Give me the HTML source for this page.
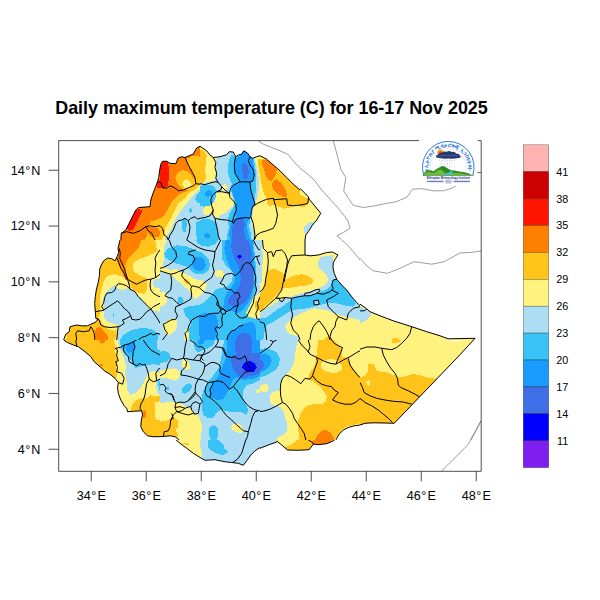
<!DOCTYPE html>
<html lang="en"><head><meta charset="utf-8"><title>Daily maximum temperature</title>
<style>html,body{margin:0;padding:0;background:#fff}body{width:600px;height:600px;overflow:hidden}svg{display:block}text{font-family:"Liberation Sans",Arial,Helvetica,sans-serif;fill:#000}.t{font-size:12.6px}.c{font-size:10.8px}.ttl{font-size:17.9px;font-weight:bold}</style></head><body>
<svg width="600" height="600" viewBox="0 0 600 600">
<rect width="600" height="600" fill="#fff"/>
<defs><clipPath id="c0"><rect x="100" y="140" width="100" height="100"/></clipPath><clipPath id="c1"><rect x="200" y="140" width="100" height="100"/></clipPath><clipPath id="c2"><rect x="300" y="140" width="100" height="100"/></clipPath><clipPath id="c3"><rect x="400" y="141" width="81" height="94"/></clipPath><clipPath id="c4"><rect x="60" y="240" width="100" height="100"/></clipPath><clipPath id="c5"><rect x="160" y="240" width="100" height="100"/></clipPath><clipPath id="c6"><rect x="260" y="240" width="100" height="100"/></clipPath><clipPath id="c7"><rect x="360" y="240" width="121" height="100"/></clipPath><clipPath id="c8"><rect x="60" y="340" width="100" height="100"/></clipPath><clipPath id="c9"><rect x="160" y="340" width="100" height="100"/></clipPath><clipPath id="c10"><rect x="260" y="340" width="100" height="100"/></clipPath><clipPath id="c11"><rect x="360" y="340" width="121" height="100"/></clipPath><clipPath id="c12"><rect x="160" y="440" width="100" height="31"/></clipPath><clipPath id="c13"><rect x="260" y="440" width="100" height="31"/></clipPath><clipPath id="c14"><rect x="420" y="400" width="61.3" height="71.3"/></clipPath></defs>
<g clip-path="url(#c0)">
<rect x="100" y="140" width="100" height="100" fill="#FF8000"/>
<polygon fill="#FFC31A" shape-rendering="crispEdges" points="200.0,180.0 200.0,240.0 144.2,240.0 146.7,236.7 148.3,228.3 150.0,221.7 156.7,219.7 163.3,216.7 168.3,208.3 171.7,201.7 178.3,195.0 185.0,191.7 190.8,190.0 186.7,190.0 181.7,188.3 177.5,184.2 175.3,177.5 177.5,172.5 182.5,170.0 188.3,171.7 193.3,177.5 196.7,182.5"/>
<polygon fill="#FFC31A" shape-rendering="crispEdges" points="191.7,155.8 195.8,155.8 200.0,156.7 200.0,184.2 196.0,183.7 195.0,177.5 192.5,172.5 188.3,165.0 186.7,160.0"/>
<polygon fill="#FFF27F" shape-rendering="crispEdges" points="183.3,180.8 186.7,179.2 190.8,181.7 191.7,185.8 189.2,188.7 184.2,187.5 182.0,184.2"/>
<polygon fill="#FF8000" shape-rendering="crispEdges" points="147.5,227.5 153.3,226.7 158.3,228.3 160.3,233.3 158.3,237.0 151.7,236.7 147.5,233.3"/>
<polygon fill="#FFF27F" shape-rendering="crispEdges" points="200.0,185.0 196.7,188.3 188.3,193.3 185.0,198.3 178.3,203.3 174.2,211.7 170.0,220.0 165.8,226.7 163.3,236.7 161.7,240.0 200.0,240.0"/>
<polygon fill="#ADDDF2" shape-rendering="crispEdges" points="200.0,189.2 196.7,191.7 191.7,196.7 186.7,203.3 180.0,211.7 175.0,220.0 171.7,228.3 166.7,235.8 164.7,240.0 200.0,240.0"/>
<polygon fill="#38C3F7" shape-rendering="crispEdges" points="200.0,191.7 196.7,194.2 195.3,199.2 197.5,203.3 200.0,203.0"/>
<polygon fill="#38C3F7" shape-rendering="crispEdges" points="188.7,208.7 191.3,208.3 192.0,212.0 189.7,212.8"/>
<polygon fill="#38C3F7" shape-rendering="crispEdges" points="182.0,219.2 185.8,218.0 187.0,223.3 185.8,231.7 183.3,232.5 181.7,226.7"/>
<polygon fill="#38C3F7" shape-rendering="crispEdges" points="195.8,222.5 200.0,220.8 200.0,240.0 197.5,240.0 195.8,233.3"/>
<polygon fill="#FF8000" shape-rendering="crispEdges" points="120.8,233.3 141.7,232.5 145.3,230.0 146.7,235.0 144.2,240.0 120.8,240.0"/>
<polygon fill="#FF1400" shape-rendering="crispEdges" points="162.0,161.7 167.5,162.0 168.8,167.5 168.8,179.2 167.5,186.3 164.2,188.7 157.5,187.8 157.2,182.0 160.0,180.0 160.3,168.3"/>
<polygon fill="#FF1400" shape-rendering="crispEdges" points="126.7,228.3 129.2,231.3 133.7,229.2 138.7,218.3 142.8,210.8 139.3,209.0 135.8,210.0 130.8,220.0"/>
<polygon fill="#fff" shape-rendering="crispEdges" points="100.0,140.0 200.0,140.0 200.0,146.3 196.7,148.0 195.0,150.8 193.3,154.2 190.8,155.0 185.0,157.5 181.7,156.7 178.3,158.0 177.0,160.8 175.8,163.7 170.0,163.3 166.7,161.2 162.5,161.3 160.8,164.2 159.7,170.0 158.7,177.5 157.5,181.7 155.0,188.3 153.0,193.3 150.8,200.0 150.0,206.7 138.7,207.5 135.8,210.0 130.8,220.0 125.8,230.0 121.3,233.3 120.8,240.0 100.0,240.0"/>
<polyline fill="none" stroke="#000" stroke-width="1" stroke-linejoin="round" points="120.8,240.0 121.3,233.3 125.8,230.0 130.8,220.0 135.8,210.0 138.7,207.5 150.0,206.7 150.8,200.0 153.0,193.3 155.0,188.3 157.5,181.7 158.7,177.5 159.7,170.0 160.8,164.2 162.5,161.3 166.7,161.2 170.0,163.3 175.8,163.7 177.0,160.8 178.3,158.0 181.7,156.7 185.0,157.5 190.8,155.0 193.3,154.2 195.0,150.8 196.7,148.0 200.0,146.3"/>
<polyline fill="none" stroke="#000" stroke-width="1" stroke-linejoin="round" points="185.0,157.5 188.3,165.0 192.5,172.5 195.0,177.5 195.8,183.7 200.0,184.2"/>
<polyline fill="none" stroke="#000" stroke-width="1" stroke-linejoin="round" points="157.5,181.7 160.8,182.5 162.5,187.5 166.7,188.3 170.0,185.8 174.2,187.5 178.3,190.8 183.3,190.0 189.2,187.5 193.3,185.8 195.8,183.7"/>
<polyline fill="none" stroke="#000" stroke-width="1" stroke-linejoin="round" points="121.3,233.3 126.7,231.7 133.3,233.3 140.0,230.8 145.8,226.7 150.0,225.8 155.0,226.7 160.0,225.8 162.5,228.3 164.2,235.0 166.7,236.7 168.3,240.0"/>
<polyline fill="none" stroke="#000" stroke-width="1" stroke-linejoin="round" points="145.8,226.7 148.3,230.8 151.7,233.3 153.3,236.7 155.0,240.0"/>
<polyline fill="none" stroke="#000" stroke-width="1" stroke-linejoin="round" points="168.3,240.0 170.0,235.0 173.3,230.0 175.8,223.3 178.3,220.8 181.7,220.0 185.0,218.3 188.3,220.8 190.8,218.3 195.0,216.7 197.5,219.2 200.0,218.3"/>
<polyline fill="none" stroke="#000" stroke-width="1" stroke-linejoin="round" points="188.3,220.8 190.0,226.7 189.2,233.3 186.7,240.0"/>
</g>
<g clip-path="url(#c1)">
<rect x="200" y="140" width="100" height="100" fill="#FFF27F"/>
<polygon fill="#FFC31A" shape-rendering="crispEdges" points="200.0,150.0 204.2,150.8 206.7,155.8 205.8,163.3 205.0,171.7 206.3,178.3 203.3,182.5 200.0,183.7"/>
<polygon fill="#FFC31A" shape-rendering="crispEdges" points="257.5,158.7 266.7,159.2 273.3,165.0 280.0,170.8 286.7,177.5 293.3,184.2 300.0,190.0 300.0,205.8 293.3,206.3 288.3,208.0 283.3,208.7 276.7,205.8 273.3,205.0 270.0,206.2 267.2,204.2 266.7,198.3 264.2,194.2 262.0,186.7 260.3,178.3 258.7,168.3"/>
<polygon fill="#FF8000" shape-rendering="crispEdges" points="262.0,159.7 266.7,159.7 273.3,165.0 277.0,169.2 275.3,175.8 271.7,180.8 268.3,180.0 265.8,175.8 264.2,170.0 262.5,165.0"/>
<polygon fill="#FF8000" shape-rendering="crispEdges" points="273.3,180.8 276.7,179.2 281.7,183.3 285.0,188.3 287.0,194.2 285.8,197.5 281.7,195.8 276.7,193.3 273.3,190.0 272.0,185.0"/>
<polygon fill="#ADDDF2" shape-rendering="crispEdges" points="216.7,157.5 226.7,155.0 229.2,152.0 233.3,152.0 235.8,156.7 241.7,154.2 243.7,150.8 247.5,153.0 250.0,156.7 255.0,158.0 256.3,165.0 258.3,173.3 259.2,183.3 258.3,193.3 256.7,200.0 253.7,206.7 252.5,215.0 251.7,223.3 253.7,230.0 255.0,240.0 200.0,240.0 200.0,184.2 205.0,182.5 210.0,181.7 215.0,180.0 216.7,173.3 215.8,165.0"/>
<polygon fill="#FFF27F" shape-rendering="crispEdges" points="221.7,185.0 225.8,184.2 227.5,188.3 226.7,191.7 222.5,190.8"/>
<polygon fill="#FFF27F" shape-rendering="crispEdges" points="216.7,193.3 221.7,191.7 228.3,192.5 232.5,196.7 234.2,201.7 232.5,206.7 228.3,210.0 225.0,213.3 220.0,215.0 217.5,220.0 214.7,218.3 214.2,213.3 210.0,214.2 205.0,215.3 202.5,211.7 204.2,206.7 210.0,205.8 213.3,203.3 215.8,198.3"/>
<polygon fill="#38C3F7" shape-rendering="crispEdges" points="231.7,154.2 235.8,156.7 241.7,154.2 243.7,150.8 247.5,153.0 250.0,156.7 253.7,158.3 255.3,166.7 256.2,176.7 256.2,186.7 255.3,195.0 254.2,201.7 251.7,210.0 250.0,218.3 249.3,226.7 250.8,233.3 251.7,240.0 226.7,240.0 227.5,233.3 229.2,226.7 227.5,221.7 229.2,213.3 233.3,208.3 234.5,203.3 233.3,196.7 230.8,190.0 231.7,183.3 228.7,176.7 227.5,166.7 229.2,160.0"/>
<polygon fill="#38C3F7" shape-rendering="crispEdges" points="200.0,185.8 206.7,184.7 213.3,185.8 216.7,190.0 215.8,196.7 213.3,202.5 210.0,205.8 204.2,206.7 200.0,205.8"/>
<polygon fill="#199BFF" shape-rendering="crispEdges" points="205.0,192.5 208.3,190.0 212.0,191.3 211.7,195.0 208.3,197.0 205.3,195.8"/>
<polygon fill="#38C3F7" shape-rendering="crispEdges" points="200.0,220.0 206.7,218.3 213.3,220.8 216.7,223.3 217.5,233.3 219.2,240.0 200.0,240.0"/>
<polygon fill="#199BFF" shape-rendering="crispEdges" points="204.2,234.2 207.5,233.0 210.3,235.0 209.7,237.7 205.0,238.0"/>
<polygon fill="#199BFF" shape-rendering="crispEdges" points="237.0,157.5 241.7,154.2 243.7,150.8 247.5,153.0 250.0,156.7 253.0,158.7 253.7,166.7 254.2,173.3 253.0,181.7 250.0,182.0 250.8,190.0 253.3,198.3 255.0,204.2 252.5,206.7 250.8,211.7 250.0,217.5 247.5,221.7 246.7,226.7 248.3,233.3 250.0,240.0 230.0,240.0 229.2,233.3 230.0,226.7 231.7,220.0 235.8,218.3 235.0,213.3 236.7,206.7 235.8,201.7 233.3,196.7 231.7,190.0 233.3,185.0 240.0,181.7 235.0,173.3 234.2,165.0 235.5,157.5"/>
<polygon fill="#3F6FE6" shape-rendering="crispEdges" points="242.5,163.3 245.8,162.5 248.3,166.7 248.7,173.3 247.5,178.3 245.0,180.0 243.0,176.7 242.0,170.0"/>
<polygon fill="#3F6FE6" shape-rendering="crispEdges" points="234.2,220.0 240.0,218.3 244.2,220.0 245.0,225.0 243.7,230.0 245.0,235.0 245.8,240.0 232.5,240.0 232.0,233.3 232.5,226.7"/>
<polygon fill="#fff" shape-rendering="crispEdges" points="200.0,140.0 300.0,140.0 300.0,190.0 293.3,184.2 286.7,177.5 280.0,170.8 273.3,165.0 266.7,159.2 260.0,155.8 256.7,156.7 252.5,158.3 250.0,156.7 247.5,153.0 243.7,150.8 241.7,154.2 238.3,155.0 235.8,156.7 233.3,152.0 229.2,151.7 226.7,154.7 220.0,156.7 213.3,157.5 210.0,155.0 206.7,150.8 200.0,146.3"/>
<polyline fill="none" stroke="#7d7d7d" stroke-width="0.75" points="258.3,140.8 263.3,144.2 271.7,147.5 280.0,150.8 288.3,154.7 292.5,160.0 296.7,165.0 300.0,167.5"/>
<polyline fill="none" stroke="#000" stroke-width="1" stroke-linejoin="round" points="200.0,146.3 206.7,150.8 210.0,155.0 213.3,157.5 220.0,156.7 226.7,154.7 229.2,151.7 233.3,152.0 235.8,156.7 238.3,155.0 241.7,154.2 243.7,150.8 247.5,153.0 250.0,156.7 252.5,158.3 256.7,156.7 260.0,155.8 266.7,159.2 273.3,165.0 280.0,170.8 286.7,177.5 293.3,184.2 300.0,190.0"/>
<polyline fill="none" stroke="#000" stroke-width="1" stroke-linejoin="round" points="213.3,157.5 215.8,162.5 215.0,167.5 216.7,173.3 215.8,178.3 218.3,182.5 221.7,186.7 220.8,190.0 216.7,191.7 212.5,195.0 210.8,200.0 211.7,205.8 213.3,210.0 212.5,214.2 215.0,218.3 215.8,223.3 217.5,230.0 218.3,235.8 220.0,240.0"/>
<polyline fill="none" stroke="#000" stroke-width="1" stroke-linejoin="round" points="200.0,183.7 205.0,184.7 210.0,183.0 215.8,181.7 218.3,182.5"/>
<polyline fill="none" stroke="#000" stroke-width="1" stroke-linejoin="round" points="235.5,156.7 234.2,165.0 235.0,173.3 240.0,181.7 233.3,185.3 230.8,188.3 229.2,193.3 230.0,197.5 233.3,200.8 235.8,204.2 236.3,210.0 234.2,215.0 232.5,221.7 233.3,223.3"/>
<polyline fill="none" stroke="#000" stroke-width="1" stroke-linejoin="round" points="221.7,186.7 225.0,190.0 229.2,193.3 221.7,191.7 216.7,191.7"/>
<polyline fill="none" stroke="#000" stroke-width="1" stroke-linejoin="round" points="250.0,156.7 248.3,160.8 250.0,165.0 253.0,169.2 254.2,175.0 253.0,180.8 250.0,182.0 240.0,181.7"/>
<polyline fill="none" stroke="#000" stroke-width="1" stroke-linejoin="round" points="250.0,182.0 250.8,190.0 253.0,197.5 255.0,204.2 252.5,206.7 251.3,211.7 250.8,216.7 250.0,218.3 245.8,217.5 240.0,218.3 235.8,219.2 233.3,223.3"/>
<polyline fill="none" stroke="#000" stroke-width="1" stroke-linejoin="round" points="252.5,206.7 257.5,203.3 266.7,199.2 273.3,198.3 274.2,199.7 286.7,198.7 287.5,205.0 293.3,205.8 300.0,205.0"/>
<polyline fill="none" stroke="#000" stroke-width="1" stroke-linejoin="round" points="273.3,198.3 275.8,206.7 277.5,215.0 275.8,223.3 273.3,228.3 266.7,230.8 260.8,232.5 256.7,235.0 254.2,240.0"/>
<polyline fill="none" stroke="#000" stroke-width="1" stroke-linejoin="round" points="250.8,216.7 253.3,223.3 254.2,230.0 255.0,235.0 254.2,240.0"/>
<polyline fill="none" stroke="#000" stroke-width="1" stroke-linejoin="round" points="200.0,218.3 205.0,217.5 210.0,215.8 213.3,210.0"/>
<polyline fill="none" stroke="#000" stroke-width="1" stroke-linejoin="round" points="215.0,218.3 221.7,219.7 226.7,220.0 232.5,221.7"/>
</g>
<g clip-path="url(#c2)">
<rect x="300" y="140" width="100" height="100" fill="#FFF27F"/>
<polygon fill="#FFC31A" shape-rendering="crispEdges" points="300.0,195.0 303.3,195.8 307.5,199.2 308.0,204.2 305.0,206.7 300.0,207.5"/>
<polygon fill="#ADDDF2" shape-rendering="crispEdges" points="304.2,226.7 308.3,223.3 313.7,221.3 312.5,225.0 308.3,230.8 305.8,233.7 303.7,232.5"/>
<polygon fill="#fff" shape-rendering="crispEdges" points="300.0,140.0 400.0,140.0 400.0,240.0 305.0,240.0 305.8,235.0 308.3,231.7 312.5,225.0 316.7,220.0 320.8,213.3 309.2,199.2 308.3,196.7 300.0,188.3"/>
<polyline fill="none" stroke="#7d7d7d" stroke-width="0.75" points="300.0,168.3 306.7,173.3 315.0,180.8 321.7,190.0 330.0,199.2 338.3,208.3 345.0,216.7 348.3,221.7 350.0,228.3 343.3,232.5 337.0,235.8 341.7,240.0"/>
<polyline fill="none" stroke="#7d7d7d" stroke-width="0.75" points="333.3,140.8 336.7,153.3 340.8,169.2 345.8,177.5 343.7,190.8 348.3,198.3 353.3,205.3 363.3,207.5 375.0,205.8 386.7,203.3 395.0,202.0 400.0,200.3"/>
<polyline fill="none" stroke="#000" stroke-width="1" stroke-linejoin="round" points="300.0,188.3 308.3,196.7 309.2,199.2 320.8,213.3 316.7,220.0 312.5,225.0 308.3,231.7 305.8,235.0 305.0,240.0"/>
<polyline fill="none" stroke="#000" stroke-width="1" stroke-linejoin="round" points="300.0,205.0 305.0,204.2 308.0,203.0 308.3,197.5"/>
</g>
<g clip-path="url(#c3)">
<polyline fill="none" stroke="#7d7d7d" stroke-width="0.75" points="400.0,200.0 406.7,197.5 412.5,189.2 421.7,188.7 433.3,190.8 443.3,190.8 451.7,188.3 455.8,185.8 470.0,176.8 478.3,172.7 481.7,172.3"/>
</g>
<g clip-path="url(#c4)">
<rect x="60" y="240" width="100" height="100" fill="#FFF27F"/>
<polygon fill="#FFC31A" shape-rendering="crispEdges" points="120.0,240.0 160.0,240.0 160.0,249.2 153.3,253.3 146.7,256.7 138.3,259.2 133.3,263.3 132.5,268.3 135.0,272.5 140.0,275.8 146.7,278.0 147.5,283.3 146.7,290.0 144.2,293.7 138.3,292.5 133.3,290.0 130.0,285.8 127.5,280.0 124.2,277.5 120.0,275.8 115.0,274.2 110.0,275.0 105.8,277.5 103.7,281.7 101.7,288.3 100.3,295.0 99.7,303.3 100.0,311.7 99.2,318.3 95.8,318.3 94.7,303.3 96.3,290.0 99.3,276.7 99.7,269.2 101.3,265.0 103.7,260.8 107.5,258.0 111.7,258.7 115.0,260.8 116.7,257.5 118.7,252.5 118.0,248.3"/>
<polygon fill="#FF8000" shape-rendering="crispEdges" points="120.0,240.0 141.7,240.0 138.3,248.3 133.3,253.3 128.3,258.3 125.3,265.0 126.0,271.7 128.0,279.2 125.3,280.0 122.5,273.3 119.7,266.7 117.0,260.8 118.3,251.7"/>
<polygon fill="#FFF27F" shape-rendering="crispEdges" points="155.3,240.0 160.0,240.0 160.0,250.0 157.5,250.3 155.8,245.8"/>
<polygon fill="#ADDDF2" shape-rendering="crispEdges" points="110.0,288.3 114.2,285.0 117.5,288.3 122.5,290.0 126.7,288.3 131.7,290.0 136.7,294.2 141.7,298.3 145.0,303.3 148.3,308.3 153.3,310.0 160.0,311.7 160.0,340.0 116.7,340.0 117.5,333.3 119.2,328.3 116.7,324.2 111.7,323.3 107.5,321.7 104.2,317.5 103.7,311.7 104.2,305.8 102.5,300.0 105.0,294.2"/>
<polygon fill="#ADDDF2" shape-rendering="crispEdges" points="153.3,280.0 160.0,278.3 160.0,288.3 155.8,288.3 153.3,285.0"/>
<polygon fill="#38C3F7" shape-rendering="crispEdges" points="120.0,340.0 123.3,335.0 131.7,330.0 143.3,327.5 151.7,329.2 158.3,333.3 157.5,340.0"/>
<polygon fill="#38C3F7" shape-rendering="crispEdges" points="112.5,313.3 114.2,312.8 114.3,317.0 112.7,317.5"/>
<polygon fill="#FFC31A" shape-rendering="crispEdges" points="63.3,340.0 64.2,337.5 68.3,330.8 70.0,325.8 75.8,324.2 81.7,325.0 87.5,325.0 91.7,323.3 95.8,318.3 100.0,318.3 101.7,323.3 106.7,328.3 113.3,330.8 116.7,330.0 115.8,335.0 115.0,340.0 65.8,340.0 67.5,335.0"/>
<polygon fill="#FF8000" shape-rendering="crispEdges" points="95.8,328.3 100.0,326.7 103.7,330.8 107.5,335.8 108.3,340.0 95.8,340.0 95.0,333.3"/>
<polygon fill="#fff" shape-rendering="crispEdges" points="60.0,240.0 120.0,240.0 118.0,248.3 118.7,252.5 116.7,257.5 115.0,260.8 111.7,258.7 107.5,258.0 103.7,260.8 101.3,265.0 99.7,269.2 99.3,276.7 98.0,283.3 96.3,290.0 95.3,296.7 94.7,303.3 95.3,311.7 95.8,318.3 98.3,319.3 95.0,322.5 90.8,324.2 87.5,325.8 81.7,325.8 76.7,325.0 70.0,326.7 69.2,331.7 65.8,334.2 64.2,338.3 63.7,340.0 60.0,340.0"/>
<polyline fill="none" stroke="#000" stroke-width="1" stroke-linejoin="round" points="120.0,240.0 118.0,248.3 118.7,252.5 116.7,257.5 115.0,260.8 111.7,258.7 107.5,258.0 103.7,260.8 101.3,265.0 99.7,269.2 99.3,276.7 98.0,283.3 96.3,290.0 95.3,296.7 94.7,303.3 95.3,311.7 95.8,318.3 98.3,319.3 95.0,322.5 90.8,324.2 87.5,325.8 81.7,325.8 76.7,325.0 70.0,326.7 69.2,331.7 65.8,334.2 64.2,338.3 63.7,340.0"/>
<polyline fill="none" stroke="#000" stroke-width="1" stroke-linejoin="round" points="119.2,248.3 120.3,253.3 119.7,258.3 122.0,263.3 124.2,268.3 125.8,273.3 127.5,279.2 131.7,281.7 136.7,284.2 141.7,281.7 145.8,280.0 150.8,279.2 155.8,277.5 160.0,274.2"/>
<polyline fill="none" stroke="#000" stroke-width="1" stroke-linejoin="round" points="116.7,257.5 118.7,262.5 120.8,268.3 124.2,273.3 126.7,279.2"/>
<polyline fill="none" stroke="#000" stroke-width="1" stroke-linejoin="round" points="127.5,279.2 129.2,285.0 130.0,289.2 135.0,291.7 138.3,296.7 143.3,301.7 148.3,306.7 150.8,309.2 153.3,306.7 160.0,303.3"/>
<polyline fill="none" stroke="#000" stroke-width="1" stroke-linejoin="round" points="130.0,289.2 126.7,285.8 122.5,284.2 118.3,283.7 115.8,286.7 115.0,290.0 111.7,292.5 106.7,293.3 104.7,297.5 103.7,302.5 101.7,306.7 103.7,310.0 110.0,305.8 115.0,302.5 117.5,300.8 120.8,304.2 124.2,308.3 128.3,311.7 130.8,315.8 131.7,319.2 135.8,320.0 140.0,319.2 143.3,315.8 146.7,311.7 150.8,309.2"/>
<polyline fill="none" stroke="#000" stroke-width="1" stroke-linejoin="round" points="103.7,310.3 95.3,311.7"/>
<polyline fill="none" stroke="#000" stroke-width="1" stroke-linejoin="round" points="130.8,315.8 126.7,318.3 122.5,320.0 124.2,323.3 120.8,325.8 118.3,326.7 117.5,331.7 116.7,340.0"/>
<polyline fill="none" stroke="#000" stroke-width="1" stroke-linejoin="round" points="95.8,318.3 99.2,320.0 100.8,325.0 104.2,326.7 110.0,327.5 118.3,326.7"/>
<polyline fill="none" stroke="#000" stroke-width="1" stroke-linejoin="round" points="76.7,340.0 75.8,333.3 77.5,330.8 83.3,331.7 89.2,330.8 90.8,326.7 92.5,329.2 94.2,333.3 95.0,340.0"/>
<polyline fill="none" stroke="#000" stroke-width="1" stroke-linejoin="round" points="150.8,279.2 150.0,285.0 150.8,290.0 153.3,293.3 157.5,295.8 160.0,296.7"/>
<polyline fill="none" stroke="#000" stroke-width="1" stroke-linejoin="round" points="155.8,277.5 155.0,270.0 155.8,263.3 155.0,258.3 157.5,253.3 160.0,250.0"/>
<polyline fill="none" stroke="#000" stroke-width="1" stroke-linejoin="round" points="150.8,309.2 155.0,315.0 158.3,320.0 160.0,323.3"/>
<polyline fill="none" stroke="#000" stroke-width="1" stroke-linejoin="round" points="138.3,340.0 141.7,337.5 146.7,335.8 150.8,333.3 153.3,335.0 156.7,333.3 160.0,334.2"/>
</g>
<g clip-path="url(#c5)">
<rect x="160" y="240" width="100" height="100" fill="#ADDDF2"/>
<polygon fill="#FFF27F" shape-rendering="crispEdges" points="160.0,240.0 167.5,240.0 165.0,244.2 163.7,250.0 164.2,258.3 162.5,265.0 160.0,266.7"/>
<polygon fill="#FFF27F" shape-rendering="crispEdges" points="160.0,265.0 165.0,267.5 170.0,270.0 176.7,269.2 183.3,272.5 189.2,275.8 195.8,279.2 203.3,280.8 207.5,284.2 205.0,290.0 200.0,295.8 195.0,299.2 191.7,295.0 188.3,290.0 183.3,285.8 176.7,280.0 171.7,275.8 166.7,273.3 160.0,271.7"/>
<polygon fill="#FFC31A" shape-rendering="crispEdges" points="183.3,280.0 186.7,279.2 189.7,282.5 188.3,284.7 185.0,283.0"/>
<polygon fill="#FFF27F" shape-rendering="crispEdges" points="160.0,291.7 164.2,291.7 167.5,296.7 166.7,302.5 163.3,305.8 160.0,306.7"/>
<polygon fill="#FFF27F" shape-rendering="crispEdges" points="215.0,270.8 221.7,270.0 224.7,274.2 222.5,277.5 215.8,277.0"/>
<polygon fill="#FFF27F" shape-rendering="crispEdges" points="164.2,322.5 170.0,319.2 175.8,318.3 177.5,323.3 175.8,330.0 171.7,334.2 166.7,335.0 163.3,330.0"/>
<polygon fill="#FFF27F" shape-rendering="crispEdges" points="185.0,330.8 189.2,328.3 193.3,330.8 192.5,340.0 184.2,340.0"/>
<polygon fill="#38C3F7" shape-rendering="crispEdges" points="164.2,253.3 168.3,248.3 176.7,245.3 186.7,246.3 195.0,250.0 201.7,252.5 208.3,258.3 210.0,265.0 208.3,270.8 203.3,274.2 196.7,274.2 191.7,271.7 188.3,267.5 181.7,265.0 175.0,263.3 169.2,260.0 165.0,257.5"/>
<polygon fill="#199BFF" shape-rendering="crispEdges" points="192.5,260.0 195.8,256.7 200.8,256.7 205.0,260.8 205.8,265.8 203.3,270.0 198.3,271.3 194.2,269.2 192.0,265.0"/>
<polygon fill="#38C3F7" shape-rendering="crispEdges" points="195.8,240.0 218.3,240.0 215.0,244.2 208.3,246.7 201.7,245.8 197.5,243.3"/>
<polygon fill="#38C3F7" shape-rendering="crispEdges" points="221.7,240.0 222.5,250.0 221.7,258.3 226.7,266.7 233.3,273.3 231.7,281.7 226.7,286.7 220.0,288.3 215.0,290.0 211.7,295.0 206.7,300.0 201.7,304.2 193.3,305.8 186.7,306.7 183.3,309.2 185.0,315.0 189.2,320.0 190.8,325.0 188.3,330.0 189.2,340.0 260.0,340.0 260.0,320.0 253.3,318.3 248.3,316.7 245.8,313.3 249.2,306.7 251.7,301.7 253.3,296.7 255.8,290.0 256.7,281.7 256.3,273.3 255.8,265.0 255.0,256.7 254.2,248.3 253.3,240.0"/>
<polygon fill="#38C3F7" shape-rendering="crispEdges" points="177.5,297.5 181.7,296.7 183.7,300.8 181.7,304.2 178.3,302.5"/>
<polygon fill="#FFF27F" shape-rendering="crispEdges" points="253.3,296.7 260.0,293.3 260.0,318.3 253.3,318.3 248.3,316.7 245.8,313.3 249.2,306.7 251.7,301.7"/>
<polygon fill="#FFC31A" shape-rendering="crispEdges" points="255.3,301.7 260.0,299.2 260.0,310.8 256.7,310.0 254.7,305.8"/>
<polygon fill="#199BFF" shape-rendering="crispEdges" points="225.8,240.0 252.5,240.0 253.3,250.0 254.2,260.0 254.7,270.0 254.2,280.0 253.3,290.0 250.8,298.3 246.7,305.0 242.5,310.0 238.3,313.3 233.3,311.7 226.7,310.0 223.3,306.7 224.2,300.0 226.7,293.3 230.0,288.3 234.2,283.3 235.0,276.7 231.7,270.0 228.3,263.3 225.8,256.7 224.2,248.3"/>
<polygon fill="#199BFF" shape-rendering="crispEdges" points="226.7,340.0 230.0,333.3 236.7,328.3 245.0,323.3 251.7,321.7 255.3,324.2 256.3,340.0"/>
<polygon fill="#3F6FE6" shape-rendering="crispEdges" points="231.7,240.0 248.3,240.0 250.8,246.7 251.7,255.0 250.0,261.7 252.5,268.3 253.3,276.7 252.5,286.7 250.0,295.0 245.8,301.7 240.0,305.0 233.3,305.8 228.3,304.2 227.5,300.0 231.7,295.0 236.7,290.0 240.0,285.0 240.8,278.3 240.0,271.7 238.3,265.0 235.0,260.0 232.5,253.3 231.3,246.7"/>
<polygon fill="#199BFF" shape-rendering="crispEdges" points="198.7,318.3 203.3,313.3 210.0,312.5 215.8,315.0 218.3,321.7 217.5,330.0 215.8,335.8 215.0,340.0 200.0,340.0 198.7,330.0"/>
<polygon fill="#3F6FE6" shape-rendering="crispEdges" points="235.8,340.0 237.5,335.8 242.5,333.0 248.3,333.7 251.3,337.5 251.7,340.0"/>
<polygon fill="#0000FF" shape-rendering="crispEdges" points="237.0,256.7 239.2,254.2 241.7,256.7 239.5,259.3"/>
<polyline fill="none" stroke="#000" stroke-width="1" stroke-linejoin="round" points="169.2,240.0 171.7,246.7 175.8,251.7 176.7,256.7 173.3,261.7 168.3,265.0 163.3,267.5 160.0,268.3"/>
<polyline fill="none" stroke="#000" stroke-width="1" stroke-linejoin="round" points="186.7,240.0 191.7,243.3 198.3,247.5 205.0,250.0 210.0,250.8 215.0,251.7 218.3,245.0 220.8,240.0"/>
<polyline fill="none" stroke="#000" stroke-width="1" stroke-linejoin="round" points="215.0,251.7 214.2,258.3 212.5,265.0 214.2,271.7 211.7,277.5 206.7,280.8 202.5,284.2 199.2,287.5"/>
<polyline fill="none" stroke="#000" stroke-width="1" stroke-linejoin="round" points="195.8,250.0 189.2,251.7 188.3,254.2 193.3,255.8 195.0,260.0 192.5,263.3 188.3,267.5 183.3,270.0 178.3,271.7 175.0,273.3 170.8,274.2 165.0,272.5 160.0,270.8"/>
<polyline fill="none" stroke="#000" stroke-width="1" stroke-linejoin="round" points="170.8,274.2 171.7,281.7 170.8,290.0 166.7,293.3 165.0,295.8 168.3,297.5 172.5,298.3 176.7,302.5 180.0,305.0 175.8,306.7 175.0,310.8 177.5,315.8 175.8,319.2 170.8,320.0 166.7,322.5 163.3,324.2 165.0,330.0 167.5,333.3 165.0,336.7 162.5,340.0"/>
<polyline fill="none" stroke="#000" stroke-width="1" stroke-linejoin="round" points="180.0,305.0 185.0,302.5 190.8,299.2 191.7,295.0 190.8,288.3 192.5,285.8 199.2,287.5 201.7,290.0 205.0,292.5 210.0,293.3 215.0,295.8 217.5,300.0 216.7,305.0 219.2,306.7 220.8,310.0 218.3,313.3 213.3,313.3 208.3,314.2 204.2,316.7 200.0,315.8 195.8,317.5 191.7,320.0 189.2,325.0 187.5,330.8 185.0,333.3 186.7,340.0"/>
<polyline fill="none" stroke="#000" stroke-width="1" stroke-linejoin="round" points="183.3,270.0 181.7,275.8 185.0,280.0 189.2,283.3 191.7,286.7"/>
<polyline fill="none" stroke="#000" stroke-width="1" stroke-linejoin="round" points="217.5,300.0 219.2,306.7 222.5,308.3 225.8,311.7 230.0,310.0 234.2,306.7 238.3,305.0 237.5,300.0 240.0,296.7 238.3,292.5 235.0,293.3 231.7,290.0 226.7,289.2 224.2,285.0 220.0,283.3 222.5,280.0 224.2,275.8 226.7,274.2 231.7,273.3 235.0,275.8 238.3,273.3 241.7,269.2 243.3,265.0 246.7,262.5 250.0,263.3 252.5,260.0 255.0,256.7 260.0,255.8"/>
<polyline fill="none" stroke="#000" stroke-width="1" stroke-linejoin="round" points="250.0,263.3 253.3,268.3 255.8,276.7 255.0,283.3 256.7,290.0 254.2,296.7 253.3,303.3 250.8,308.3 248.3,313.3 246.7,316.7 241.7,318.3 238.3,316.7 235.8,313.3 236.7,308.3 238.3,305.0"/>
<polyline fill="none" stroke="#000" stroke-width="1" stroke-linejoin="round" points="260.0,296.7 257.5,303.3 258.3,308.3 255.8,313.3 256.7,318.3 260.0,320.0"/>
<polyline fill="none" stroke="#000" stroke-width="1" stroke-linejoin="round" points="220.8,310.0 223.3,308.7 225.8,310.8 225.3,313.7 222.5,314.2 220.8,312.5 220.8,310.0"/>
<polyline fill="none" stroke="#000" stroke-width="1" stroke-linejoin="round" points="222.5,314.2 221.7,320.0 222.5,325.0 220.0,328.3 216.7,326.7 215.0,329.2 217.5,333.3 216.7,337.5 218.3,340.0"/>
<polyline fill="none" stroke="#000" stroke-width="1" stroke-linejoin="round" points="226.7,340.0 228.3,335.0 231.7,330.8 235.0,330.0 238.3,326.7 243.3,325.0"/>
<polyline fill="none" stroke="#000" stroke-width="1" stroke-linejoin="round" points="253.3,240.0 255.8,245.0 258.3,249.2 260.0,250.0"/>
<polyline fill="none" stroke="#000" stroke-width="1" stroke-linejoin="round" points="256.7,256.7 258.3,261.7 260.0,265.0"/>
</g>
<g clip-path="url(#c6)">
<rect x="260" y="240" width="100" height="100" fill="#FFF27F"/>
<polygon fill="#ADDDF2" shape-rendering="crispEdges" points="260.0,240.0 262.3,240.0 262.7,260.0 261.7,281.7 260.0,283.3"/>
<polygon fill="#FFC31A" shape-rendering="crispEdges" points="268.3,270.0 275.0,269.2 283.3,273.3 285.0,280.0 283.3,287.5 278.3,293.3 273.3,298.3 268.3,303.3 263.3,308.3 260.0,310.8 260.0,293.3 263.3,290.0 265.8,281.7 266.7,275.0"/>
<polygon fill="#FFC31A" shape-rendering="crispEdges" points="285.0,280.0 293.3,275.8 301.7,274.2 308.3,275.8 313.3,280.0 311.7,284.2 305.0,285.8 296.7,286.7 288.3,288.3 283.3,287.5"/>
<polygon fill="#ADDDF2" shape-rendering="crispEdges" points="318.3,261.7 320.0,257.5 326.7,255.8 332.5,255.3 333.3,262.5 333.0,267.5 334.2,273.3 336.7,279.2 341.7,285.0 346.7,290.0 351.7,296.7 356.7,302.5 360.0,305.8 360.0,320.0 348.3,317.5 333.3,313.3 326.7,310.0 315.0,308.3 305.0,311.7 295.0,316.7 288.3,321.7 285.0,326.7 288.3,333.3 298.3,336.7 300.0,340.0 260.0,340.0 260.0,313.3 266.7,308.3 273.3,304.2 280.0,300.0 286.7,297.5 293.3,295.8 301.7,293.3 310.0,290.8 318.3,288.3 325.0,285.0 328.3,280.0 326.7,275.0 321.7,270.8 318.3,266.7"/>
<polygon fill="#38C3F7" shape-rendering="crispEdges" points="331.7,280.0 336.7,279.2 341.7,285.0 346.7,290.0 351.7,296.7 355.8,303.3 353.3,306.7 346.7,305.8 340.0,304.2 333.3,302.5 326.7,303.3 320.0,305.0 313.3,306.7 306.7,308.3 300.0,309.2 293.3,310.0 286.7,313.3 280.0,317.5 273.3,321.7 266.7,325.0 264.2,333.3 263.3,340.0 260.0,340.0 260.0,318.3 265.0,318.3 270.0,315.0 276.7,310.0 283.3,305.8 290.0,300.8 293.3,298.3 303.3,295.8 310.0,295.0 316.7,293.3 323.3,290.8 328.3,288.3 331.7,284.2"/>
<polygon fill="#ADDDF2" shape-rendering="crispEdges" points="313.7,300.8 318.3,300.0 319.2,304.2 314.2,305.0"/>
<polygon fill="#FFC31A" shape-rendering="crispEdges" points="323.3,340.0 325.8,337.5 330.0,336.7 331.7,340.0"/>
<polygon fill="#fff" shape-rendering="crispEdges" points="305.0,240.0 305.0,255.0 310.0,255.8 318.3,255.0 326.7,252.5 332.5,252.0 338.0,255.0 335.8,258.3 333.3,262.5 333.0,267.5 334.2,273.3 336.7,279.2 341.7,285.0 346.7,290.0 351.7,296.7 356.7,302.5 360.0,305.8 360.0,240.0"/>
<polyline fill="none" stroke="#7d7d7d" stroke-width="0.75" points="341.7,240.0 346.7,244.2 353.3,251.7 360.0,260.0"/>
<polyline fill="none" stroke="#000" stroke-width="1" stroke-linejoin="round" points="305.0,240.0 305.0,255.0 310.0,255.8 318.3,255.0 326.7,252.5 332.5,252.0 338.0,255.0 335.8,258.3 333.3,262.5 333.0,267.5 334.2,273.3 336.7,279.2 341.7,285.0 346.7,290.0 351.7,296.7 356.7,302.5 360.0,305.8"/>
<polyline fill="none" stroke="#000" stroke-width="1" stroke-linejoin="round" points="262.5,240.0 263.3,248.3 267.5,252.5 271.7,251.7 273.3,256.7 275.8,250.8 281.7,250.0 285.0,253.3 287.5,260.0 286.7,266.7 285.0,273.3 283.3,281.7 281.7,290.0 278.3,295.0 275.8,298.3"/>
<polyline fill="none" stroke="#000" stroke-width="1" stroke-linejoin="round" points="267.5,252.5 268.3,261.7 267.5,270.0 265.8,278.3 265.0,285.0 262.5,290.0 260.0,291.7"/>
<polyline fill="none" stroke="#000" stroke-width="1" stroke-linejoin="round" points="305.0,255.0 298.3,255.3 291.7,255.8 289.2,260.0 287.5,265.0 285.8,273.3 284.2,281.7"/>
<polyline fill="none" stroke="#000" stroke-width="1" stroke-linejoin="round" points="275.8,298.3 280.0,298.3 285.0,297.5 291.7,298.3 298.3,296.7 304.2,295.8 305.0,293.3 310.0,292.5 315.0,290.0 319.2,289.2 320.0,290.8 316.7,293.3 323.3,294.2 330.0,291.7 333.3,288.3 331.7,285.0 333.3,280.0 336.7,279.2"/>
<polyline fill="none" stroke="#000" stroke-width="1" stroke-linejoin="round" points="304.2,295.8 310.0,295.8 316.7,293.3"/>
<polyline fill="none" stroke="#000" stroke-width="1" stroke-linejoin="round" points="331.7,290.0 338.3,293.3 333.3,296.7 326.7,300.0 328.3,306.7 333.3,311.7 338.3,316.7 346.7,320.0 348.3,313.3 353.3,308.3 360.0,306.7"/>
<polyline fill="none" stroke="#000" stroke-width="1" stroke-linejoin="round" points="291.7,298.3 290.8,306.7 292.5,315.0 290.8,323.3 293.3,330.0 298.3,335.0 300.0,340.0"/>
<polyline fill="none" stroke="#000" stroke-width="1" stroke-linejoin="round" points="275.8,298.3 270.0,303.3 265.0,308.3 260.0,311.7"/>
<polyline fill="none" stroke="#000" stroke-width="1" stroke-linejoin="round" points="278.3,297.5 280.0,300.8 282.5,301.7 285.0,297.5"/>
<polyline fill="none" stroke="#000" stroke-width="1" stroke-linejoin="round" points="310.0,340.0 310.8,333.3 313.3,326.7 316.7,322.5 319.2,320.8 322.5,325.0 325.8,330.0 328.3,335.0 330.0,340.0"/>
<polyline fill="none" stroke="#000" stroke-width="1" stroke-linejoin="round" points="338.3,316.7 335.8,321.7 335.0,326.7 331.7,330.8 330.0,336.7 331.7,340.0"/>
<polyline fill="none" stroke="#000" stroke-width="1" stroke-linejoin="round" points="313.7,300.8 318.3,300.0 319.2,304.2 314.2,305.0 313.7,300.8"/>
<polyline fill="none" stroke="#000" stroke-width="1" stroke-linejoin="round" points="260.0,321.7 264.2,323.3 265.8,330.0 266.7,340.0"/>
</g>
<g clip-path="url(#c7)">
<rect x="360" y="240" width="121" height="100" fill="#FFF27F"/>
<polygon fill="#ADDDF2" shape-rendering="crispEdges" points="360.0,306.7 365.0,308.3 371.7,314.2 366.7,320.0 361.7,322.5 360.0,322.5"/>
<polygon fill="#FFC31A" shape-rendering="crispEdges" points="391.7,340.0 393.3,338.3 397.5,338.3 399.2,340.0"/>
<polygon fill="#fff" shape-rendering="crispEdges" points="360.0,240.0 481.0,240.0 481.0,340.0 473.5,340.0 475.0,338.3 448.3,338.8 440.0,335.8 426.7,331.7 411.7,326.7 393.3,320.8 380.0,315.8 370.0,311.7 365.0,307.5 360.0,304.2"/>
<polyline fill="none" stroke="#7d7d7d" stroke-width="0.75" points="360.0,258.3 366.7,265.8 373.3,270.8 387.5,273.3 400.0,268.3 414.2,261.7 431.7,264.2 444.2,261.7 453.3,256.7 460.0,253.0 472.0,252.3 481.0,251.0"/>
<polyline fill="none" stroke="#000" stroke-width="1" stroke-linejoin="round" points="360.0,304.2 365.0,307.5 370.0,311.7 380.0,315.8 393.3,320.8 411.7,326.7 426.7,331.7 440.0,335.8 448.3,338.8 475.0,338.3 473.5,340.0"/>
<polyline fill="none" stroke="#000" stroke-width="1" stroke-linejoin="round" points="360.0,310.8 364.2,310.8 366.7,309.2"/>
<polyline fill="none" stroke="#000" stroke-width="1" stroke-linejoin="round" points="411.7,326.7 410.0,333.3 406.7,338.3 405.0,340.0"/>
</g>
<g clip-path="url(#c8)">
<rect x="60" y="340" width="100" height="100" fill="#FFC31A"/>
<polygon fill="#FFF27F" shape-rendering="crispEdges" points="114.2,340.0 160.0,340.0 160.0,395.8 155.0,396.7 150.8,395.0 146.7,398.3 141.7,398.0 136.7,400.3 132.0,404.7 130.8,410.8 127.5,411.7 126.7,408.3 124.2,405.8 120.8,400.0 118.3,393.3 117.5,387.5 118.3,382.5 115.8,379.2 117.5,373.3 115.8,368.3 117.5,361.7 115.8,355.0 115.0,348.3"/>
<polygon fill="#ADDDF2" shape-rendering="crispEdges" points="117.5,340.0 160.0,340.0 160.0,373.3 153.3,370.8 148.3,373.3 145.8,378.3 143.3,383.3 140.0,388.3 135.0,393.3 130.0,395.3 127.5,390.0 126.7,381.7 125.3,373.3 125.8,365.0 123.3,356.7 120.3,350.0"/>
<polygon fill="#ADDDF2" shape-rendering="crispEdges" points="156.7,379.2 160.0,377.5 160.0,395.0 157.5,393.3 155.8,386.7"/>
<polygon fill="#38C3F7" shape-rendering="crispEdges" points="120.0,340.0 157.5,340.0 157.0,348.3 160.0,350.8 160.0,365.0 153.3,364.2 146.7,365.0 140.0,366.7 135.0,368.3 131.7,361.7 125.0,353.3 120.8,348.3"/>
<polygon fill="#38C3F7" shape-rendering="crispEdges" points="158.3,381.7 160.0,380.8 160.0,390.0 158.7,389.2"/>
<polygon fill="#199BFF" shape-rendering="crispEdges" points="126.7,343.3 131.7,342.5 135.0,345.8 133.3,350.8 129.2,353.3 125.8,350.0"/>
<polygon fill="#FF8000" shape-rendering="crispEdges" points="99.2,340.0 105.0,340.0 104.2,343.3 100.8,343.7"/>
<polygon fill="#FF8000" shape-rendering="crispEdges" points="143.3,410.8 145.3,410.0 146.3,414.2 145.0,418.3 143.3,417.5"/>
<polygon fill="#FF8000" shape-rendering="crispEdges" points="100.0,363.7 103.0,364.2 102.5,366.0 100.3,365.5"/>
<polygon fill="#FFF27F" shape-rendering="crispEdges" points="155.3,402.0 160.0,401.3 160.0,420.0 155.8,419.7 154.7,411.7"/>
<polygon fill="#fff" shape-rendering="crispEdges" points="60.0,340.0 63.7,340.0 67.5,342.5 73.3,345.0 78.3,346.7 85.0,351.7 90.8,356.7 94.2,361.7 100.0,366.7 105.0,371.3 110.0,374.2 115.0,378.3 118.3,382.5 117.5,387.5 118.3,393.3 120.8,400.0 124.2,405.8 126.7,408.3 127.5,411.7 133.3,411.3 141.7,410.8 142.5,415.0 141.3,420.0 140.8,426.7 143.3,431.7 147.5,435.8 153.3,436.7 160.0,436.7 160.0,440.0 60.0,440.0"/>
<polyline fill="none" stroke="#000" stroke-width="1" stroke-linejoin="round" points="63.7,340.0 67.5,342.5 73.3,345.0 78.3,346.7 85.0,351.7 90.8,356.7 94.2,361.7 100.0,366.7 105.0,371.3 110.0,374.2 115.0,378.3 118.3,382.5 117.5,387.5 118.3,393.3 120.8,400.0 124.2,405.8 126.7,408.3 127.5,411.7 133.3,411.3 141.7,410.8 142.5,415.0 141.3,420.0 140.8,426.7 143.3,431.7 147.5,435.8 153.3,436.7 160.0,436.7"/>
<polyline fill="none" stroke="#000" stroke-width="1" stroke-linejoin="round" points="75.8,340.0 76.7,346.7"/>
<polyline fill="none" stroke="#000" stroke-width="1" stroke-linejoin="round" points="115.0,348.3 117.5,350.0 116.7,355.8 118.3,360.8 115.8,361.7 117.5,367.5 116.7,371.7 121.7,373.3 124.2,378.3 122.5,384.2 118.3,382.5"/>
<polyline fill="none" stroke="#000" stroke-width="1" stroke-linejoin="round" points="115.0,348.3 120.0,347.5 124.2,345.0 128.3,344.2 133.3,341.7 136.7,340.0"/>
<polyline fill="none" stroke="#000" stroke-width="1" stroke-linejoin="round" points="124.2,345.0 123.3,350.0 125.8,354.2 128.3,356.7 129.2,361.7 133.3,364.2 137.5,365.8 139.2,363.3 142.5,365.0 145.0,364.2 146.7,368.3 148.3,373.3 149.2,379.2 146.7,383.3 145.8,388.3 145.0,395.0 143.3,400.0 140.8,404.2 140.0,408.3 141.7,410.8"/>
<polyline fill="none" stroke="#000" stroke-width="1" stroke-linejoin="round" points="133.3,341.7 135.0,346.7 133.3,351.7 132.5,358.3 133.3,364.2"/>
<polyline fill="none" stroke="#000" stroke-width="1" stroke-linejoin="round" points="143.3,340.0 146.7,345.0 150.8,350.0 156.7,353.3 160.0,355.0"/>
<polyline fill="none" stroke="#000" stroke-width="1" stroke-linejoin="round" points="149.2,379.2 153.3,381.7 156.7,380.8 160.0,379.2"/>
<polyline fill="none" stroke="#000" stroke-width="1" stroke-linejoin="round" points="156.7,380.8 155.8,373.3 158.3,369.2 160.0,368.3"/>
</g>
<g clip-path="url(#c9)">
<rect x="160" y="340" width="100" height="100" fill="#ADDDF2"/>
<polygon fill="#FFF27F" shape-rendering="crispEdges" points="160.0,370.8 166.7,369.2 175.0,368.3 180.0,371.7 179.2,378.3 175.0,380.8 170.0,379.2 165.0,377.5 160.0,378.3"/>
<polygon fill="#FFF27F" shape-rendering="crispEdges" points="181.7,360.0 185.8,359.2 189.2,363.3 190.0,368.3 186.7,370.0 182.5,366.7"/>
<polygon fill="#FFF27F" shape-rendering="crispEdges" points="160.0,403.3 168.3,402.0 176.7,402.5 185.0,405.8 193.3,410.8 199.2,416.7 201.7,425.0 201.3,440.0 160.0,440.0"/>
<polygon fill="#FFC31A" shape-rendering="crispEdges" points="160.0,421.7 166.7,420.8 172.5,417.5 177.5,420.0 178.0,426.7 175.8,430.8 178.3,435.0 176.7,440.0 160.0,440.0"/>
<polygon fill="#FFF27F" shape-rendering="crispEdges" points="230.8,426.7 235.0,423.3 240.0,424.2 243.3,428.3 242.5,432.5 238.3,432.5 233.3,430.8"/>
<polygon fill="#FFF27F" shape-rendering="crispEdges" points="255.8,390.0 260.0,389.2 260.0,393.3 256.7,393.3"/>
<polygon fill="#FFF27F" shape-rendering="crispEdges" points="202.2,370.8 203.3,370.8 203.7,374.2 202.3,374.2"/>
<polygon fill="#38C3F7" shape-rendering="crispEdges" points="160.0,351.7 165.0,350.8 170.0,354.2 170.8,358.3 166.7,361.7 160.0,363.3"/>
<polygon fill="#38C3F7" shape-rendering="crispEdges" points="192.5,340.0 215.0,340.0 213.3,345.0 208.3,348.3 203.3,350.0 198.3,352.5 195.0,350.0 194.2,345.0"/>
<polygon fill="#199BFF" shape-rendering="crispEdges" points="197.5,340.0 205.0,340.0 203.3,343.3 200.0,345.0 198.0,343.3"/>
<polygon fill="#38C3F7" shape-rendering="crispEdges" points="181.7,389.2 185.0,385.0 190.0,383.0 192.5,385.8 190.0,390.8 185.0,393.7 181.7,392.5"/>
<polygon fill="#38C3F7" shape-rendering="crispEdges" points="165.8,387.0 168.7,386.7 169.2,389.7 166.3,390.0"/>
<polygon fill="#38C3F7" shape-rendering="crispEdges" points="224.2,340.0 260.0,340.0 260.0,380.0 253.3,383.3 246.7,385.0 243.3,390.0 242.5,396.7 245.0,403.3 248.3,410.0 246.7,415.0 240.0,411.7 230.0,411.7 221.7,410.0 217.5,411.7 213.3,417.5 208.3,418.3 203.3,415.0 201.7,406.7 201.7,396.7 204.2,388.3 208.3,381.7 213.3,375.8 218.3,368.3 220.8,360.0 222.5,350.0"/>
<polygon fill="#38C3F7" shape-rendering="crispEdges" points="209.2,428.3 213.3,425.0 217.5,427.5 218.3,433.3 216.7,440.0 210.8,440.0 209.2,435.0"/>
<polygon fill="#199BFF" shape-rendering="crispEdges" points="226.7,340.0 260.0,340.0 260.0,375.8 255.0,378.3 250.0,379.2 243.3,380.0 238.3,377.5 233.3,379.2 230.8,385.0 228.3,390.0 225.8,395.0 223.3,399.2 216.7,400.0 211.7,397.5 209.2,391.7 211.7,385.0 215.8,380.0 218.3,375.0 220.8,370.8 223.3,365.0 225.8,358.3 226.7,350.0"/>
<polygon fill="#3F6FE6" shape-rendering="crispEdges" points="231.7,355.8 236.7,354.2 241.7,356.7 245.0,354.2 250.0,352.5 256.7,352.5 260.0,353.3 260.0,373.3 255.0,375.0 250.0,375.8 243.3,378.3 238.3,375.8 235.0,371.7 232.5,366.7 230.8,360.8"/>
<polygon fill="#3F6FE6" shape-rendering="crispEdges" points="235.0,340.0 251.7,340.0 252.0,350.0 248.3,356.7 243.3,358.3 238.3,356.7 235.0,350.0"/>
<polygon fill="#0000FF" shape-rendering="crispEdges" points="241.7,366.7 245.0,362.5 250.0,360.8 255.0,363.3 256.7,367.5 254.2,371.7 250.0,372.5 245.0,370.8"/>
<polygon fill="#fff" shape-rendering="crispEdges" points="160.0,436.7 165.0,436.3 170.0,435.8 175.0,436.7 179.2,440.0 160.0,440.0"/>
<polyline fill="none" stroke="#000" stroke-width="1" stroke-linejoin="round" points="160.0,436.7 165.0,436.3 170.0,435.8 175.0,436.7 179.2,440.0"/>
<polyline fill="none" stroke="#000" stroke-width="1" stroke-linejoin="round" points="186.7,340.0 185.0,346.7 184.2,355.0 183.3,358.3 176.7,360.0 171.7,358.3 168.3,363.3 166.7,369.2 165.0,373.3 160.0,375.8"/>
<polyline fill="none" stroke="#000" stroke-width="1" stroke-linejoin="round" points="183.3,358.3 186.7,361.7 185.8,366.7 181.7,370.8 180.8,375.0 186.7,375.8 193.3,377.5 198.3,379.2 195.8,384.2 195.0,390.0 195.8,393.3 192.5,397.5 188.3,400.8 184.2,402.5 180.0,402.0 175.8,403.3 175.0,407.5 176.7,411.7 173.3,415.0 170.8,420.0 170.0,426.7 168.3,430.8 164.2,431.7 163.3,436.7"/>
<polyline fill="none" stroke="#000" stroke-width="1" stroke-linejoin="round" points="160.0,385.0 163.3,384.2 165.8,387.5 165.0,390.8 167.5,393.3 171.7,394.2 173.3,398.3 175.8,403.3"/>
<polyline fill="none" stroke="#000" stroke-width="1" stroke-linejoin="round" points="184.2,358.3 193.3,360.0 200.0,360.8 201.7,355.0 205.0,354.2 210.0,351.7 215.0,346.7 217.5,343.3 218.3,340.0"/>
<polyline fill="none" stroke="#000" stroke-width="1" stroke-linejoin="round" points="193.3,360.0 197.5,355.0 201.7,355.0"/>
<polyline fill="none" stroke="#000" stroke-width="1" stroke-linejoin="round" points="200.0,360.8 205.0,364.2 204.2,369.2 202.5,374.2 198.3,379.2"/>
<polyline fill="none" stroke="#000" stroke-width="1" stroke-linejoin="round" points="215.0,346.7 221.7,347.5 224.2,351.7 225.8,355.8 230.0,357.5 235.0,356.7 238.3,359.2 241.7,358.3 245.0,355.8 246.7,360.0 247.5,365.0 250.8,367.5 250.0,370.8 245.0,372.5 241.7,375.8 238.3,380.0 235.0,384.2 233.3,386.7"/>
<polyline fill="none" stroke="#000" stroke-width="1" stroke-linejoin="round" points="198.3,379.2 203.3,380.0 208.3,382.5 213.3,381.7 218.3,380.8 223.3,382.5 226.7,385.8 229.2,389.2 233.3,386.7 236.7,390.0 240.0,395.0 243.3,400.0 246.7,404.2 249.2,406.7 253.3,409.2 258.3,410.8 260.0,410.0"/>
<polyline fill="none" stroke="#000" stroke-width="1" stroke-linejoin="round" points="208.3,382.5 205.8,386.7 205.0,391.7 206.7,395.8 210.0,397.5 210.8,393.3 210.0,389.2 212.5,385.0 213.3,381.7"/>
<polyline fill="none" stroke="#000" stroke-width="1" stroke-linejoin="round" points="210.0,397.5 215.0,401.7 220.0,406.7 223.3,411.7 226.7,415.8 231.7,420.0 236.7,425.0 240.0,427.5 243.3,430.8 248.3,431.7 250.8,423.3 252.5,416.7 255.0,411.7 258.3,410.8"/>
<polyline fill="none" stroke="#000" stroke-width="1" stroke-linejoin="round" points="248.3,431.7 247.5,436.7 245.8,440.0"/>
<polyline fill="none" stroke="#000" stroke-width="1" stroke-linejoin="round" points="195.8,393.3 200.0,397.5 202.5,401.7 200.0,404.2 199.2,408.3 198.3,413.3 195.0,414.2 191.7,410.0 190.8,406.7 192.5,403.3 195.8,401.7 200.0,404.2"/>
<polyline fill="none" stroke="#000" stroke-width="1" stroke-linejoin="round" points="175.0,407.5 180.0,406.7 185.0,408.3 189.2,406.7 190.8,406.7"/>
<polyline fill="none" stroke="#000" stroke-width="1" stroke-linejoin="round" points="176.7,411.7 181.7,410.8 185.0,408.3"/>
<polyline fill="none" stroke="#000" stroke-width="1" stroke-linejoin="round" points="176.7,411.7 181.7,413.3 188.3,415.0 193.3,413.3 195.0,414.2"/>
<polyline fill="none" stroke="#000" stroke-width="1" stroke-linejoin="round" points="170.8,420.0 173.3,418.3 171.7,413.3"/>
<polyline fill="none" stroke="#000" stroke-width="1" stroke-linejoin="round" points="190.0,340.0 193.0,342.0 196.0,344.5 198.5,347.0 201.0,346.5 203.5,348.0 205.0,351.0 203.5,353.5 202.0,356.0 201.5,358.5 203.5,360.5"/>
<polyline fill="none" stroke="#000" stroke-width="1" stroke-linejoin="round" points="205.0,366.5 208.0,364.5 211.0,362.5 214.0,362.5 217.0,363.5 219.5,365.0 220.5,368.0 219.5,371.0 221.0,373.5 224.0,375.0 227.0,376.5 230.0,377.5"/>
<polyline fill="none" stroke="#000" stroke-width="1" stroke-linejoin="round" points="195.0,392.0 192.0,396.0 189.5,399.0 188.5,400.0"/>
<polyline fill="none" stroke="#000" stroke-width="1" stroke-linejoin="round" points="170.0,394.0 172.0,394.5 173.5,397.0 174.0,400.0"/>
<polyline fill="none" stroke="#000" stroke-width="1" stroke-linejoin="round" points="222.0,347.0 224.5,350.0 225.5,354.0 227.0,356.5 230.0,357.0"/>
</g>
<g clip-path="url(#c10)">
<rect x="260" y="340" width="100" height="100" fill="#FFF27F"/>
<polygon fill="#ADDDF2" shape-rendering="crispEdges" points="260.0,340.0 298.0,340.0 295.8,348.3 295.0,356.7 293.3,365.0 289.2,371.7 283.3,376.7 280.8,381.7 280.0,390.0 275.8,391.3 270.8,393.3 269.7,398.3 270.8,403.3 275.0,405.8 280.0,406.7 283.3,411.7 285.8,418.3 287.5,425.0 286.7,431.7 283.3,435.0 278.3,436.7 276.7,440.0 260.0,440.0"/>
<polygon fill="#FFF27F" shape-rendering="crispEdges" points="260.0,385.8 262.5,384.7 266.7,383.7 268.7,387.5 268.0,391.3 263.3,392.0 260.0,390.8"/>
<polygon fill="#38C3F7" shape-rendering="crispEdges" points="260.0,349.2 265.0,348.3 271.7,350.0 276.7,352.5 279.7,358.3 279.2,365.0 275.8,370.0 270.0,373.3 265.0,375.8 260.0,377.5"/>
<polygon fill="#199BFF" shape-rendering="crispEdges" points="260.0,354.2 265.0,353.3 269.2,355.8 271.7,360.8 270.0,365.8 265.8,370.0 260.0,372.5"/>
<polygon fill="#3F6FE6" shape-rendering="crispEdges" points="260.0,360.0 262.5,360.8 264.2,365.0 262.5,369.2 260.0,370.8"/>
<polygon fill="#FFC31A" shape-rendering="crispEdges" points="318.3,340.0 333.3,340.0 338.7,344.7 341.3,350.0 342.0,356.7 346.7,358.0 350.7,364.7 354.7,370.0 358.7,375.3 360.0,377.0 360.0,423.3 353.3,425.0 346.7,426.7 341.7,430.0 338.3,435.0 333.3,440.0 299.2,440.0 298.3,430.0 298.3,420.0 300.8,413.3 304.2,408.3 308.3,405.0 315.0,404.2 321.7,404.2 325.8,401.7 326.7,396.7 324.2,391.7 320.8,387.5 316.7,384.2 311.7,380.8 308.3,378.3 309.2,373.3 313.3,368.3 315.8,361.7 316.7,353.3 317.5,346.7"/>
<polygon fill="#FFF27F" shape-rendering="crispEdges" points="320.8,363.3 325.0,360.0 331.7,358.7 338.3,360.8 341.7,365.0 341.7,370.0 336.7,372.5 330.0,372.5 324.2,370.8 320.8,367.5"/>
<polygon fill="#FF8000" shape-rendering="crispEdges" points="315.0,440.0 317.5,435.0 321.7,430.8 325.8,430.0 330.0,432.5 333.3,436.7 334.2,440.0"/>
<polygon fill="#fff" shape-rendering="crispEdges" points="335.8,440.0 339.2,434.2 343.3,430.0 348.3,427.5 354.2,425.8 360.0,425.0 360.0,440.0"/>
<polyline fill="none" stroke="#000" stroke-width="1" stroke-linejoin="round" points="335.8,440.0 339.2,434.2 343.3,430.0 348.3,427.5 354.2,425.8 360.0,425.0"/>
<polyline fill="none" stroke="#000" stroke-width="1" stroke-linejoin="round" points="270.0,340.0 273.3,341.7 276.7,340.0"/>
<polyline fill="none" stroke="#000" stroke-width="1" stroke-linejoin="round" points="260.0,353.3 265.0,350.0 270.0,346.7 273.3,341.7"/>
<polyline fill="none" stroke="#000" stroke-width="1" stroke-linejoin="round" points="298.3,340.0 301.7,345.0 306.7,350.0 310.0,354.2 316.7,357.5 317.5,361.7 315.0,368.3 312.5,375.8 310.0,379.2 305.0,378.3 300.8,383.7 295.8,380.0 290.8,376.7 285.8,375.0 282.5,378.3 280.8,383.3 280.3,390.0 280.8,396.7 282.5,402.5 276.7,405.8 270.0,409.2 265.0,410.8 260.0,411.7"/>
<polyline fill="none" stroke="#000" stroke-width="1" stroke-linejoin="round" points="308.3,340.0 310.0,346.7 308.3,351.7 310.0,354.2"/>
<polyline fill="none" stroke="#000" stroke-width="1" stroke-linejoin="round" points="316.7,357.5 323.3,360.8 330.0,363.3 335.8,364.2 338.3,358.3 340.8,352.5 342.5,347.5 338.3,345.8 334.2,343.3 331.7,340.0"/>
<polyline fill="none" stroke="#000" stroke-width="1" stroke-linejoin="round" points="335.8,364.2 343.3,360.0 350.0,356.7 356.7,352.5 360.0,350.8"/>
<polyline fill="none" stroke="#000" stroke-width="1" stroke-linejoin="round" points="312.5,375.8 316.7,380.8 321.7,384.2 326.7,385.8 331.7,386.7 334.2,390.0 338.3,392.5 335.0,396.7 332.5,400.0 338.3,402.5 345.0,404.2 351.7,404.2 356.7,401.7 360.0,398.3"/>
<polyline fill="none" stroke="#000" stroke-width="1" stroke-linejoin="round" points="348.3,358.3 350.0,365.0 353.3,370.0 357.5,375.0 360.0,377.5"/>
<polyline fill="none" stroke="#000" stroke-width="1" stroke-linejoin="round" points="282.5,402.5 285.8,404.2 289.2,408.3 292.5,413.3 294.2,418.3 297.5,423.3 300.8,428.3 304.2,433.3 305.8,440.0"/>
</g>
<g clip-path="url(#c11)">
<rect x="360" y="340" width="121" height="100" fill="#FFF27F"/>
<polygon fill="#FFC31A" shape-rendering="crispEdges" points="360.0,377.5 365.0,375.8 367.5,371.7 367.5,365.0 370.8,363.3 375.0,365.0 375.8,370.0 380.0,371.7 386.7,372.5 393.3,375.0 400.0,377.5 406.7,375.8 411.7,374.2 418.3,374.7 426.7,377.5 435.0,378.7 438.3,377.5 394.2,423.3 360.0,425.0"/>
<polygon fill="#FFF27F" shape-rendering="crispEdges" points="366.3,381.3 368.7,380.0 370.3,382.5 369.2,385.8 366.7,385.3"/>
<polygon fill="#FFC31A" shape-rendering="crispEdges" points="391.7,340.0 400.8,340.0 400.0,342.0 395.8,343.3 392.5,342.5"/>
<polygon fill="#fff" shape-rendering="crispEdges" points="473.5,340.0 460.0,354.7 394.2,423.3 385.0,423.0 373.3,422.8 365.0,423.3 360.0,425.0 360.0,440.0 481.0,440.0 481.0,340.0"/>
<polygon fill="#fff" shape-rendering="crispEdges" points="446.7,340.0 460.0,340.0 460.0,341.2 446.7,340.8"/>
<polyline fill="none" stroke="#7d7d7d" stroke-width="0.75" points="481.0,420.7 468.3,444.0"/>
<polyline fill="none" stroke="#000" stroke-width="1" stroke-linejoin="round" points="473.5,340.0 460.0,354.7 394.2,423.3 385.0,423.0 373.3,422.8 365.0,423.3 360.0,425.0"/>
<polyline fill="none" stroke="#000" stroke-width="1" stroke-linejoin="round" points="360.0,349.2 366.7,347.0 375.0,347.0 381.7,348.3 391.7,349.7 396.7,347.5 401.7,343.3 405.0,340.0"/>
<polyline fill="none" stroke="#000" stroke-width="1" stroke-linejoin="round" points="381.7,348.3 383.3,355.0 386.7,361.7 390.8,368.3 395.0,373.3 397.5,378.3 398.3,385.0 400.8,387.5 408.3,390.8 415.0,394.2 419.2,396.7"/>
<polyline fill="none" stroke="#000" stroke-width="1" stroke-linejoin="round" points="360.0,382.5 362.5,387.5 364.2,392.5 370.0,395.8 376.7,398.3 385.0,400.0 393.3,401.3 403.3,402.0 411.7,404.2"/>
<polyline fill="none" stroke="#000" stroke-width="1" stroke-linejoin="round" points="360.0,398.3 365.0,402.5 371.7,405.8 378.3,410.0 383.3,414.2 388.3,418.3 392.5,422.5"/>
</g>
<g clip-path="url(#c12)">
<rect x="160" y="440" width="100" height="31" fill="#ADDDF2"/>
<polygon fill="#FFF27F" shape-rendering="crispEdges" points="176.7,430.0 200.8,430.0 200.0,436.7 199.7,443.3 201.7,451.7 202.5,459.2 160.0,459.2 160.0,430.0"/>
<polygon fill="#FFC31A" shape-rendering="crispEdges" points="160.0,430.0 176.7,430.0 177.5,433.3 175.8,436.7 170.0,437.5 160.0,437.0"/>
<polygon fill="#FFC31A" shape-rendering="crispEdges" points="182.5,443.3 187.5,442.5 189.2,445.0 185.0,444.7"/>
<polygon fill="#38C3F7" shape-rendering="crispEdges" points="210.0,430.0 215.8,430.0 216.7,434.2 215.0,437.5 218.3,440.0 223.3,444.2 224.2,448.3 228.3,451.7 223.3,455.0 218.3,454.2 211.7,450.8 207.5,446.7 207.5,441.7 210.8,437.5"/>
<polygon fill="#FFF27F" shape-rendering="crispEdges" points="231.7,430.0 243.3,430.0 240.0,432.5 235.0,432.0"/>
<polygon fill="#fff" shape-rendering="crispEdges" points="160.0,436.7 170.0,437.0 174.2,438.3 180.0,443.3 186.7,448.3 193.3,453.3 200.0,457.5 205.0,460.3 215.0,459.7 220.0,460.8 226.7,462.0 231.7,462.5 238.3,463.3 243.3,465.3 246.7,460.8 250.8,455.0 255.0,450.8 260.0,447.5 260.0,480.0 160.0,480.0"/>
<polyline fill="none" stroke="#000" stroke-width="1" stroke-linejoin="round" points="160.0,436.7 170.0,437.0 174.2,438.3 180.0,443.3 186.7,448.3 193.3,453.3 200.0,457.5 205.0,460.3 215.0,459.7 220.0,460.8 226.7,462.0 231.7,462.5 238.3,463.3 243.3,465.3 246.7,460.8 250.8,455.0 255.0,450.8 260.0,447.5"/>
<polyline fill="none" stroke="#000" stroke-width="1" stroke-linejoin="round" points="247.5,430.0 246.7,436.7 244.2,445.0 241.7,453.3 237.5,459.2 232.5,462.5"/>
<polyline fill="none" stroke="#000" stroke-width="1" stroke-linejoin="round" points="165.0,430.0 165.0,436.7"/>
</g>
<g clip-path="url(#c13)">
<rect x="260" y="440" width="100" height="31" fill="#FFC31A"/>
<polygon fill="#ADDDF2" shape-rendering="crispEdges" points="260.0,430.0 287.5,430.0 285.0,434.2 278.3,436.7 276.7,441.7 260.0,448.3"/>
<polygon fill="#FFF27F" shape-rendering="crispEdges" points="287.5,430.0 299.2,430.0 297.5,436.7 295.8,441.7 290.0,445.0 285.8,447.5 281.7,445.0 277.5,441.7 278.3,436.7 285.0,434.2"/>
<polygon fill="#FF8000" shape-rendering="crispEdges" points="322.5,430.0 330.0,430.0 333.3,436.7 330.8,441.7 326.7,443.7 318.3,444.7 313.3,444.2 311.7,441.7 315.0,438.3 319.2,434.2"/>
<polygon fill="#fff" shape-rendering="crispEdges" points="260.0,448.3 268.3,445.0 277.5,441.7 281.7,445.0 287.5,450.0 298.3,450.3 309.2,449.7 313.3,444.2 318.3,444.7 326.7,443.7 333.3,440.8 338.3,436.7 343.3,432.5 346.7,430.0 360.0,430.0 360.0,480.0 260.0,480.0"/>
<polyline fill="none" stroke="#000" stroke-width="1" stroke-linejoin="round" points="260.0,448.3 268.3,445.0 277.5,441.7 281.7,445.0 287.5,450.0 298.3,450.3 309.2,449.7 313.3,444.2 318.3,444.7 326.7,443.7 333.3,440.8 338.3,436.7 343.3,432.5 346.7,430.0"/>
<polyline fill="none" stroke="#000" stroke-width="1" stroke-linejoin="round" points="300.8,430.0 304.2,435.8 308.3,440.0 312.5,442.5 313.3,444.2"/>
</g>
<g clip-path="url(#c14)">
<polyline fill="none" stroke="#7d7d7d" stroke-width="0.75" points="481.3,420.7 474.7,433.3 468.0,444.7 441.3,471.3"/>
</g>
<path d="M58.7 140.6H481.2V471.3H58.7Z" fill="none" stroke="#222" stroke-width="0.8"/>
<g id="logo">
<rect x="419" y="139" width="58.6" height="47" fill="#fff"/>
<path id="arcp" d="M428.6 170.7A20 20 0 1 1 468 170.7" fill="none"/>
<path d="M423.8 175.3A25.8 25.8 0 1 1 472.8 175.3" fill="none" stroke="#2a7de1" stroke-width="1"/>
<path d="M430.6 171A18.1 18.1 0 1 1 466 171" fill="none" stroke="#9cc8f2" stroke-width="0.35"/>
<text style="font-size:5.8px;font-weight:bold;fill:#1f6fd6;font-family:'Liberation Sans','DejaVu Sans',sans-serif" textLength="69" lengthAdjust="spacingAndGlyphs"><textPath href="#arcp">የኢትዮጵያ ሚቲዎሮሎጂ ኢንስቲትዩት</textPath></text>
<circle cx="440.6" cy="152.8" r="3.3" fill="#f7a21b"/><circle cx="440.8" cy="153.2" r="2" fill="#e8432a"/>
<path d="M436.3 157.6q-1-2.3 1.8-2.8q0.6-2.2 3.4-1.6q1.8-2.6 5-1.4q2.6-1.8 5 0.2q3.2-1 4.6 1.4q3.2 0 3.8 2q2 1.2-0.2 2.4q-4.4 1-11.4 0.8q-7 0.4-12-1z" fill="#27386f"/>
<path d="M439 156.4q5-1.6 9.6-0.6q4.4-1.4 8.6 0.2" fill="none" stroke="#5f86c9" stroke-width="0.5"/>
<path d="M439.5 159.5v1.2M442 160v1.4M444.5 159.6v1.2M447 160.2v1.4M449.5 159.6v1.2M452 160v1.4M454.5 159.5v1.2M441 163v1.2M444 163.4v1.2M447.5 163.2v1.4M451 163v1.2M449.5 166v1.2M445.5 166.2v1" stroke="#5a6a8a" stroke-width="0.4" fill="none"/>
<path d="M423 175.3q1.6-4.4 5.2-5.2q3 0.6 5.4 1.2q3.4-3.2 6.6-4.4q2.6-1.6 4.6-0.2q3.2 1.8 6 3.6q3.4-0.4 6.6 1q4 0.4 7 1q3.6 0.6 8.2 3z" fill="#2e8b1e"/>
<path d="M423 175.3q2.4-3.2 5.2-3.8q3.4 1.4 6.2 1.2q3.6-3.4 6.6-3.2q2.8 1.4 4.4 4q4.8-1.2 9.6-0.6q6 0 10 1.4l8.6 1z" fill="#6dbb38"/>
<path d="M452 170.6q-2.4 1.4-3.6 2.2q-1.8 0.4-2.6 1.4q-2.2 0.4-4.8 1.1h7.4q1.2-1.4 2.6-1.8q1.2-1.2 2.6-1.8z" fill="#3cc4ea"/>
<path d="M423 175.6h51" stroke="#2c6e2a" stroke-width="0.5"/>
<text x="448.4" y="179.2" text-anchor="middle" textLength="43.5" lengthAdjust="spacingAndGlyphs" style="font-size:3.1px;font-weight:bold;fill:#1a2a8a">Ethiopian Meteorology Institute</text>
<path d="M427 181.3h16.5M453.5 181.3h16.5" stroke="#2b3fae" stroke-width="0.9"/><path d="M430 182.2h13M454 182.2h13" stroke="#8ea4e6" stroke-width="0.35"/>
<ellipse cx="448.4" cy="181.6" rx="3.3" ry="1.5" fill="#fff" stroke="#39457f" stroke-width="0.45"/><path d="M446.4 181.6h4" stroke="#39457f" stroke-width="0.5"/>
</g>
<path d="M477.4 172.4H481.2" stroke="#555" stroke-width="0.8"/>
<path d="M91.25 471.3v10M146.25 471.3v10M201.25 471.3v10M256.25 471.3v10M311.25 471.3v10M366.25 471.3v10M421.25 471.3v10M476.25 471.3v10M58.7 449.25h-10M58.7 393.45h-10M58.7 337.65h-10M58.7 281.85h-10M58.7 226.05h-10M58.7 170.25h-10" fill="none" stroke="#222" stroke-width="0.8"/>
<text class="t" x="91.25" y="500.3" text-anchor="middle">34<tspan dx="0.6">°</tspan><tspan dx="1">E</tspan></text>
<text class="t" x="146.25" y="500.3" text-anchor="middle">36<tspan dx="0.6">°</tspan><tspan dx="1">E</tspan></text>
<text class="t" x="201.25" y="500.3" text-anchor="middle">38<tspan dx="0.6">°</tspan><tspan dx="1">E</tspan></text>
<text class="t" x="256.25" y="500.3" text-anchor="middle">40<tspan dx="0.6">°</tspan><tspan dx="1">E</tspan></text>
<text class="t" x="311.25" y="500.3" text-anchor="middle">42<tspan dx="0.6">°</tspan><tspan dx="1">E</tspan></text>
<text class="t" x="366.25" y="500.3" text-anchor="middle">44<tspan dx="0.6">°</tspan><tspan dx="1">E</tspan></text>
<text class="t" x="421.25" y="500.3" text-anchor="middle">46<tspan dx="0.6">°</tspan><tspan dx="1">E</tspan></text>
<text class="t" x="476.25" y="500.3" text-anchor="middle">48<tspan dx="0.6">°</tspan><tspan dx="1">E</tspan></text>
<text class="t" x="40.4" y="453.65" text-anchor="end">4<tspan dx="0.6">°</tspan><tspan dx="1">N</tspan></text>
<text class="t" x="40.4" y="397.85" text-anchor="end">6<tspan dx="0.6">°</tspan><tspan dx="1">N</tspan></text>
<text class="t" x="40.4" y="342.05" text-anchor="end">8<tspan dx="0.6">°</tspan><tspan dx="1">N</tspan></text>
<text class="t" x="40.4" y="286.25" text-anchor="end">10<tspan dx="0.6">°</tspan><tspan dx="1">N</tspan></text>
<text class="t" x="40.4" y="230.45" text-anchor="end">12<tspan dx="0.6">°</tspan><tspan dx="1">N</tspan></text>
<text class="t" x="40.4" y="174.65" text-anchor="end">14<tspan dx="0.6">°</tspan><tspan dx="1">N</tspan></text>
<text class="ttl" x="271.5" y="113.6" text-anchor="middle">Daily maximum temperature (C) for 16-17 Nov 2025</text>
<rect x="523.3" y="144.80" width="25.4" height="26.90" fill="#FFB3B3" stroke="#000" stroke-opacity="0.55" stroke-width="0.5"/>
<rect x="523.3" y="171.70" width="25.4" height="26.90" fill="#CC0000" stroke="#000" stroke-opacity="0.55" stroke-width="0.5"/>
<rect x="523.3" y="198.60" width="25.4" height="26.90" fill="#FF1400" stroke="#000" stroke-opacity="0.55" stroke-width="0.5"/>
<rect x="523.3" y="225.50" width="25.4" height="26.90" fill="#FF8000" stroke="#000" stroke-opacity="0.55" stroke-width="0.5"/>
<rect x="523.3" y="252.40" width="25.4" height="26.90" fill="#FFC31A" stroke="#000" stroke-opacity="0.55" stroke-width="0.5"/>
<rect x="523.3" y="279.30" width="25.4" height="26.90" fill="#FFF27F" stroke="#000" stroke-opacity="0.55" stroke-width="0.5"/>
<rect x="523.3" y="306.20" width="25.4" height="26.90" fill="#ADDDF2" stroke="#000" stroke-opacity="0.55" stroke-width="0.5"/>
<rect x="523.3" y="333.10" width="25.4" height="26.90" fill="#38C3F7" stroke="#000" stroke-opacity="0.55" stroke-width="0.5"/>
<rect x="523.3" y="360.00" width="25.4" height="26.90" fill="#199BFF" stroke="#000" stroke-opacity="0.55" stroke-width="0.5"/>
<rect x="523.3" y="386.90" width="25.4" height="26.90" fill="#3F6FE6" stroke="#000" stroke-opacity="0.55" stroke-width="0.5"/>
<rect x="523.3" y="413.80" width="25.4" height="26.90" fill="#0000FF" stroke="#000" stroke-opacity="0.55" stroke-width="0.5"/>
<rect x="523.3" y="440.70" width="25.4" height="26.90" fill="#7F1FEF" stroke="#000" stroke-opacity="0.55" stroke-width="0.5"/>
<text class="c" x="568.2" y="175.60" text-anchor="end">41</text>
<text class="c" x="568.2" y="202.50" text-anchor="end">38</text>
<text class="c" x="568.2" y="229.40" text-anchor="end">35</text>
<text class="c" x="568.2" y="256.30" text-anchor="end">32</text>
<text class="c" x="568.2" y="283.20" text-anchor="end">29</text>
<text class="c" x="568.2" y="310.10" text-anchor="end">26</text>
<text class="c" x="568.2" y="337.00" text-anchor="end">23</text>
<text class="c" x="568.2" y="363.90" text-anchor="end">20</text>
<text class="c" x="568.2" y="390.80" text-anchor="end">17</text>
<text class="c" x="568.2" y="417.70" text-anchor="end">14</text>
<text class="c" x="568.2" y="444.60" text-anchor="end">11</text>
</svg></body></html>
